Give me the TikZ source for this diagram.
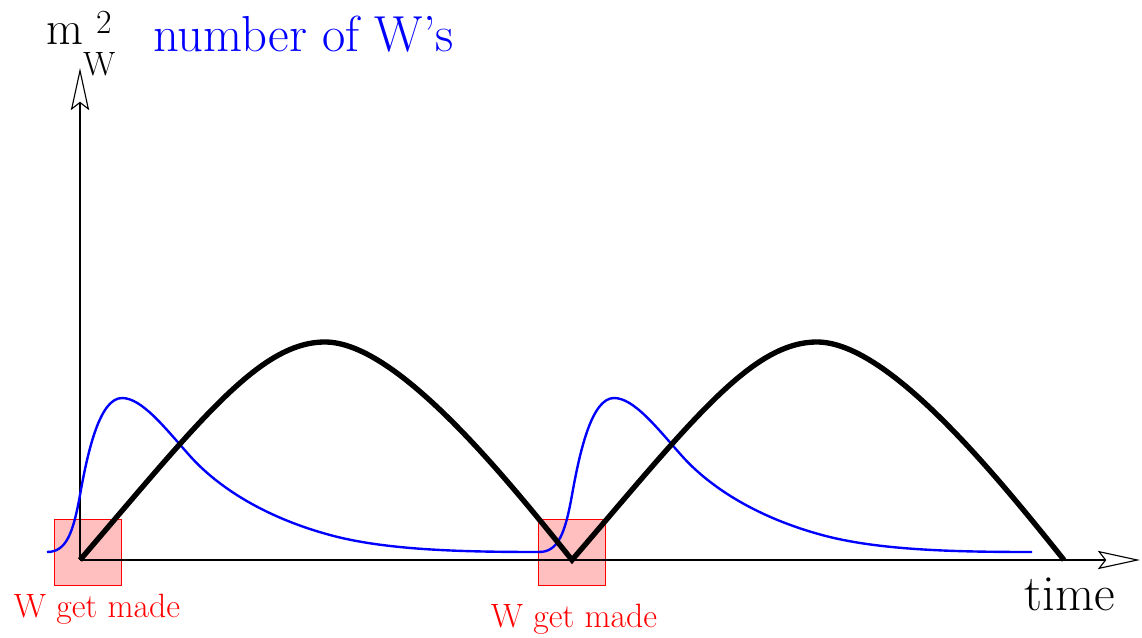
\documentclass[tikz,border=0pt]{standalone}
\usetikzlibrary{arrows.meta}

\begin{document}
\begin{tikzpicture}[
    x=0.025cm, y=-0.025cm,
    axis/.style={line width=1.8pt,
                 -{Stealth[open, length=30pt, width=13pt, inset=5pt, line width=0.8pt]}},
    masscurve/.style={line width=3.8pt, line join=miter},
    countcurve/.style={blue, line width=1.7pt},
    wbox/.style={draw=red, fill=red!25, line width=0.7pt, inner sep=0pt,
                 minimum width=1.675cm, minimum height=1.65cm},
    madelbl/.style={red, anchor=base, inner sep=0pt, font=\fontsize{24}{28}\selectfont},
    big/.style={inner sep=0pt, font=\fontsize{36}{40}\selectfont}
  ]
  \useasboundingbox (0,0) rectangle (1142,637);
  % Production windows
  \node[wbox] (made1) at (87.5,552) {};
  \node[wbox] (made2) at (572,552) {};
  \node[madelbl] (madelbl1) at (97,617) {W get made};
  \node[madelbl] (madelbl2) at (574,627) {W get made};
  % Axes
  \coordinate (o) at (80,560);
  \coordinate (ytip) at (80,68);
  \coordinate (xtip) at (1140,560);
  \draw[axis] (o) -- (ytip);
  \draw[axis] (o) -- (xtip);
  % Axis labels
  \node[anchor=base west, inner sep=0pt, font=\fontsize{34}{38}\selectfont] (masslbl) at (46,45)
    {m\rlap{\hspace{0.27em}\raisebox{0.25em}{\fontsize{24}{24}\selectfont 2}}\raisebox{-0.63em}{\fontsize{24}{24}\selectfont W}};
  \node[big, blue, anchor=base west] (countlbl) at (153,52) {number of W's};
  \node[big, anchor=base] (timelbl) at (1070,610) {time};
  % Number of W's
  \foreach \s in {0,492}
    \draw[countcurve, xshift=\s*0.025cm] (47,552)
      .. controls (66,552) and (73,534) .. (80,495)
      .. controls (88,450) and (100,398) .. (122,398)
      .. controls (142,398) and (165,428) .. (190,456)
      .. controls (215,484) and (260,516) .. (330,535)
      .. controls (385,550) and (460,552) .. (540,552);
  % W mass squared
  \draw[masscurve] (o) .. controls (200,420) and (260,342) .. (325,342)
    .. controls (395,342) and (500,470) .. (572,560)
    .. controls (692,420) and (752,342) .. (817,342)
    .. controls (887,342) and (992,470) .. (1064,560);
\end{tikzpicture}
\end{document}
